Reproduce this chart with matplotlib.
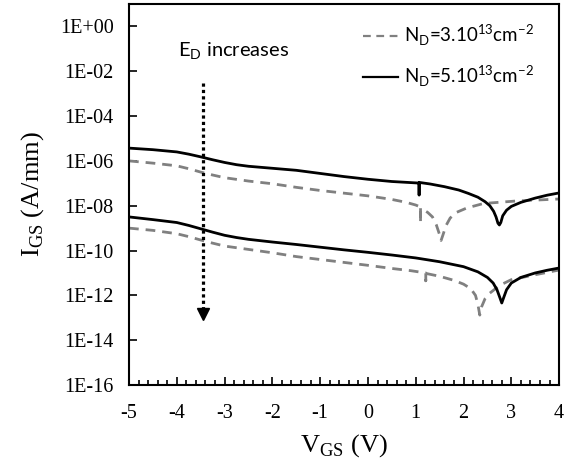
import numpy as np
import matplotlib.pyplot as plt
from matplotlib.ticker import FixedLocator, MultipleLocator, NullLocator

serif = 'Liberation Serif'
sans = 'Lato'
plt.rcParams['mathtext.fontset'] = 'custom'
plt.rcParams['mathtext.rm'] = serif
plt.rcParams['mathtext.sf'] = sans
plt.rcParams['axes.unicode_minus'] = False

# gate leakage current, log10(A/mm)
# N_D = 5e13, upper curve (solid)
v_hi_5 = [-5, -4.5, -4, -3.75, -3.5, -3.25, -3, -2.75, -2.5, -2, -1.5, -1, -0.5, 0, 0.5,
          1.07, 1.07, 1.07, 1.3, 1.6, 1.9, 2.1, 2.3, 2.45, 2.55, 2.63, 2.68, 2.72, 2.75,
          2.78, 2.82, 2.9, 3.0, 3.2, 3.5, 3.75, 4.0]
log_hi_5 = [-5.43, -5.5, -5.6, -5.7, -5.82, -5.95, -6.07, -6.17, -6.24, -6.33, -6.42, -6.56, -6.7, -6.82, -6.92,
            -6.99, -7.52, -6.96, -7.03, -7.15, -7.3, -7.45, -7.62, -7.82, -8.0, -8.25, -8.5, -8.78, -8.86,
            -8.75, -8.45, -8.2, -8.03, -7.85, -7.66, -7.53, -7.43]

# N_D = 3e13, upper curve (dashed)
v_hi_3 = [-5, -4.5, -4, -3.75, -3.5, -3.25, -3, -2.5, -2, -1.5, -1, -0.5, 0, 0.5, 0.8, 1.0,
          1.1, 1.1, 1.1, 1.25, 1.35, 1.43, 1.5, 1.53, 1.57, 1.63, 1.72, 1.85, 2.07, 2.42, 3.1, 4.0]
log_hi_3 = [-6.0, -6.1, -6.22, -6.35, -6.5, -6.63, -6.75, -6.9, -7.02, -7.18, -7.32, -7.44, -7.56, -7.72, -7.85, -7.97,
            -8.06, -8.77, -8.1, -8.3, -8.5, -8.85, -9.3, -9.55, -9.3, -8.9, -8.55, -8.3, -8.1, -7.9, -7.79, -7.7]

# N_D = 5e13, lower curve (solid)
v_lo_5 = [-5, -4.5, -4, -3.75, -3.5, -3.25, -3, -2.75, -2.5, -2, -1.5, -1, -0.5, 0, 0.5, 1.0, 1.5,
          2.0, 2.3, 2.5, 2.62, 2.7, 2.76, 2.8, 2.84, 2.9, 3.0, 3.2, 3.5, 3.75, 4.0]
log_lo_5 = [-8.5, -8.62, -8.75, -8.88, -9.03, -9.18, -9.32, -9.42, -9.5, -9.62, -9.73, -9.85, -9.97, -10.08, -10.2, -10.33, -10.5,
            -10.72, -10.95, -11.2, -11.45, -11.75, -12.1, -12.34, -12.1, -11.75, -11.45, -11.2, -11.0, -10.88, -10.78]

# N_D = 3e13, lower curve (dashed)
v_lo_3 = [-5, -4.5, -4, -3.75, -3.5, -3.25, -3, -2.5, -2, -1.5, -1, -0.5, 0, 0.5, 0.9,
          1.21, 1.21, 1.21, 1.5, 1.8, 2.0, 2.15, 2.25, 2.3, 2.34, 2.38, 2.45, 2.55, 2.76, 3.0, 3.5, 4.0]
log_lo_3 = [-9.0, -9.1, -9.25, -9.38, -9.53, -9.67, -9.8, -9.95, -10.1, -10.27, -10.4, -10.53, -10.66, -10.8, -10.9,
            -11.0, -11.35, -11.02, -11.15, -11.33, -11.5, -11.7, -12.0, -12.4, -12.88, -12.5, -12.15, -11.9, -11.55, -11.3, -11.08, -10.87]

y_ticks = [1e0, 1e-2, 1e-4, 1e-6, 1e-8, 1e-10, 1e-12, 1e-14, 1e-16]
y_tick_labels = ['1E+00', '1E-02', '1E-04', '1E-06', '1E-08', '1E-10', '1E-12', '1E-14', '1E-16']
x_ticks = [-5, -4, -3, -2, -1, 0, 1, 2, 3, 4]

grey = '#808080'
dash = (0, (3.5, 2.5))

fig = plt.figure(figsize=(5.77, 4.66), dpi=100)
ax = fig.add_axes([0.2236, 0.1738, 0.7454, 0.8176])

ax.plot(v_hi_3, 10.0 ** np.array(log_hi_3), color=grey, lw=2, linestyle=dash,
        label=r'N$_\mathsf{D}$=3.10$^\mathsf{13}$cm$^\mathsf{-2}$')
ax.plot(v_hi_5, 10.0 ** np.array(log_hi_5), color='black', lw=2,
        label=r'N$_\mathsf{D}$=5.10$^\mathsf{13}$cm$^\mathsf{-2}$')
ax.plot(v_lo_3, 10.0 ** np.array(log_lo_3), color=grey, lw=2, linestyle=dash)
ax.plot(v_lo_5, 10.0 ** np.array(log_lo_5), color='black', lw=2)

# dotted arrow "E_D increases"
arrow_x = -3.45
ax.plot([arrow_x, arrow_x], [10 ** -2.52, 10 ** -12.75], color='black', lw=2.3,
        linestyle=(0, (1, 1)), dash_capstyle='butt')
ax.plot([arrow_x], [10 ** -12.85], marker='v', ms=8, color='black', linestyle='none')
ax.text(-3.98, 10 ** -1.1, r'E$_\mathsf{D}$ increases', family=sans, fontsize=14.5,
        ha='left', va='center')

ax.set_yscale('log')
ax.set_xlim(-5, 4)
ax.set_ylim(1e-16, 1e1)

ax.yaxis.set_major_locator(FixedLocator(y_ticks))
ax.yaxis.set_minor_locator(NullLocator())
ax.set_yticklabels(y_tick_labels)
ax.set_xticks(x_ticks)
ax.xaxis.set_minor_locator(MultipleLocator(0.2))

ax.tick_params(axis='both', which='major', direction='in', length=6, width=1.2, labelsize=14.5)
ax.tick_params(axis='x', which='minor', direction='in', length=3.5, width=1.2)
ax.tick_params(axis='y', which='major', pad=11)
ax.tick_params(axis='x', which='major', pad=14)
for lbl in ax.get_xticklabels() + ax.get_yticklabels():
    lbl.set_family(serif)

for sp in ax.spines.values():
    sp.set_linewidth(1.5)

ax.set_xlabel(r'V$_\mathrm{GS}$ (V)', family=serif, fontsize=19, labelpad=6)
ax.set_ylabel(r'I$_\mathrm{GS}$ (A/mm)', family=serif, fontsize=19, labelpad=10)

leg = ax.legend(loc='upper right', frameon=False, prop={'family': sans, 'size': 13.5},
                handlelength=1.9, handletextpad=0.3, labelspacing=0.85,
                borderaxespad=0.6, bbox_to_anchor=(0.985, 1.0))
for h in leg.legend_handles:
    h.set_linewidth(1.6)

plt.savefig('out.png', dpi=100)
